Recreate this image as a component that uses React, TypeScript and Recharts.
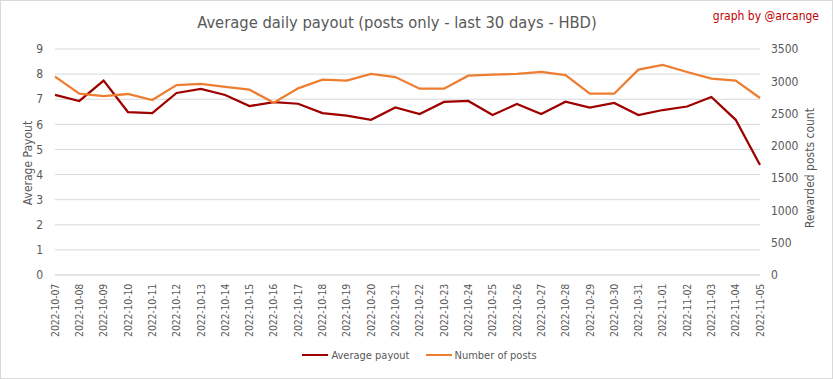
import React from "react";
import {
  LineChart,
  Line,
  XAxis,
  YAxis,
  CartesianGrid,
  Legend,
} from "recharts";

const dates = [
  "2022-10-07", "2022-10-08", "2022-10-09", "2022-10-10", "2022-10-11",
  "2022-10-12", "2022-10-13", "2022-10-14", "2022-10-15", "2022-10-16",
  "2022-10-17", "2022-10-18", "2022-10-19", "2022-10-20", "2022-10-21",
  "2022-10-22", "2022-10-23", "2022-10-24", "2022-10-25", "2022-10-26",
  "2022-10-27", "2022-10-28", "2022-10-29", "2022-10-30", "2022-10-31",
  "2022-11-01", "2022-11-02", "2022-11-03", "2022-11-04", "2022-11-05",
];

const avgPayout = [
  7.17, 6.93, 7.74, 6.49, 6.45, 7.25, 7.41, 7.17, 6.73, 6.88,
  6.82, 6.45, 6.35, 6.18, 6.67, 6.41, 6.89, 6.93, 6.37, 6.81,
  6.41, 6.9, 6.67, 6.85, 6.37, 6.57, 6.71, 7.09, 6.18, 4.38,
];

const postCount = [
  3071, 2808, 2772, 2803, 2710, 2942, 2958, 2912, 2870, 2668,
  2890, 3025, 3009, 3113, 3066, 2885, 2885, 3087, 3102, 3113,
  3145, 3097, 2808, 2808, 3180, 3252, 3144, 3041, 3009, 2741,
];

const leftTicks = [0, 1, 2, 3, 4, 5, 6, 7, 8, 9];
const rightTicks = [0, 500, 1000, 1500, 2000, 2500, 3000, 3500];

const data = dates.map((d, i) => ({
  date: d,
  payout: avgPayout[i],
  posts: postCount[i],
}));

const FONT = '"DejaVu Sans Condensed", "Liberation Sans", sans-serif';
const GREY = "#595959";
const RED = "#9e0000";
const ORANGE = "#ed7d31";

const DateTick = (props: any) => {
  const { x, y, payload } = props;
  return (
    <g transform={`translate(${x},${y})`}>
      <text
        transform="rotate(-90)"
        x={-1}
        y={0}
        dy="0.35em"
        textAnchor="end"
        fontSize={10.5}
        letterSpacing={-0.2}
        fontFamily={FONT}
        fill={GREY}
      >
        {payload.value}
      </text>
    </g>
  );
};

const LegendBox = () => (
  <div
    style={{
      display: "flex",
      justifyContent: "center",
      fontFamily: FONT,
      fontSize: 11,
      color: GREY,
      height: 20,
      alignItems: "center",
      paddingLeft: 6,
    }}
  >
    <span style={{ display: "inline-block", width: 26, height: 2, background: RED, marginRight: 3 }} />
    <span style={{ marginRight: 16 }}>Average payout</span>
    <span style={{ display: "inline-block", width: 26, height: 2, background: ORANGE, marginRight: 3 }} />
    <span>Number of posts</span>
  </div>
);

const AxisTitle = ({ text, cx, cy }: { text: string; cx: number; cy: number }) => (
  <div
    style={{
      position: "absolute",
      left: cx - 100,
      top: cy - 8,
      width: 200,
      height: 16,
      lineHeight: "16px",
      textAlign: "center",
      transform: "rotate(-90deg)",
      fontFamily: FONT,
      fontSize: 12,
      color: GREY,
      whiteSpace: "nowrap",
    }}
  >
    {text}
  </div>
);

export default function App() {
  return (
    <div
      style={{
        position: "relative",
        width: 833,
        height: 379,
        boxSizing: "border-box",
        border: "1px solid #d9d9d9",
        background: "#fff",
      }}
    >
      <style>{"body{margin:0}"}</style>
      <div
        style={{
          position: "absolute",
          left: 0,
          width: 792,
          top: 12,
          textAlign: "center",
          fontFamily: FONT,
          fontSize: 16.4,
          color: GREY,
        }}
      >
        Average daily payout (posts only - last 30 days - HBD)
      </div>
      <div
        style={{
          position: "absolute",
          right: 13,
          top: 8,
          fontFamily: FONT,
          fontSize: 12,
          color: "#c00000",
        }}
      >
        graph by @arcange
      </div>
      <div style={{ position: "absolute", left: -1, top: -1 }}>
        <LineChart
          width={833}
          height={379}
          data={data}
          margin={{ top: 49, right: 0, left: 0, bottom: 14 }}
        >
          <CartesianGrid yAxisId="left" horizontal vertical={false} stroke="#d9d9d9" />
          <XAxis
            dataKey="date"
            interval={0}
            height={70}
            tick={<DateTick />}
            tickLine={false}
            axisLine={{ stroke: "#d9d9d9" }}
          />
          <YAxis
            yAxisId="left"
            domain={[0, 9]}
            ticks={leftTicks}
            width={55}
            axisLine={false}
            tickLine={false}
            tick={{ fontSize: 12, fill: GREY, fontFamily: FONT }}
            tickMargin={6}
          />
          <YAxis
            yAxisId="right"
            orientation="right"
            domain={[0, 3500]}
            ticks={rightTicks}
            width={73}
            axisLine={false}
            tickLine={false}
            tick={{ fontSize: 12, fill: GREY, fontFamily: FONT }}
            tickMargin={5}
          />
          <Legend verticalAlign="bottom" content={<LegendBox />} />
          <Line
            yAxisId="left"
            type="linear"
            dataKey="payout"
            name="Average payout"
            stroke={RED}
            strokeWidth={2.25}
            dot={false}
            isAnimationActive={false}
          />
          <Line
            yAxisId="right"
            type="linear"
            dataKey="posts"
            name="Number of posts"
            stroke={ORANGE}
            strokeWidth={2.25}
            dot={false}
            isAnimationActive={false}
          />
        </LineChart>
      </div>
      <AxisTitle text="Average Payout" cx={27} cy={162} />
      <AxisTitle text="Rewarded posts count" cx={809} cy={167} />
    </div>
  );
}
